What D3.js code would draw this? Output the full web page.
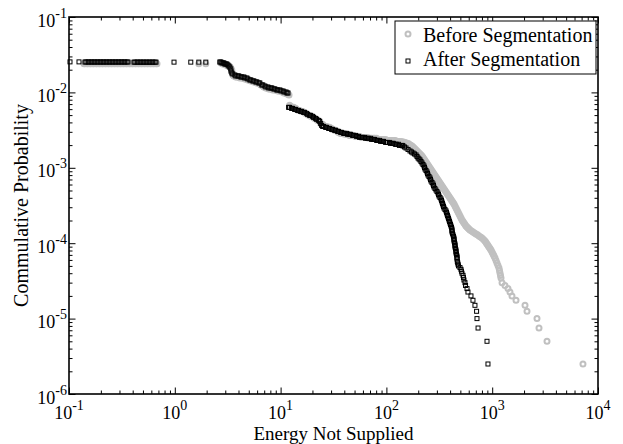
<!DOCTYPE html>
<html>
<head>
<meta charset="utf-8">
<script src="https://cdn.jsdelivr.net/npm/d3@7"></script>
<style>
  body { margin: 0; background: #fff; }
</style>
</head>
<body>
<div id="wrapper"></div>
<script>
// Values: [energy, probability]
const beforeSeg = [
  // plateau
  [0.1386,0.024],[0.1416,0.024],[0.1479,0.024],[0.1512,0.024],[0.1579,0.024],[0.1614,0.024],[0.1686,0.024],
  [0.1723,0.024],[0.1800,0.024],[0.1839,0.024],[0.1921,0.024],[0.1964,0.024],[0.2051,0.024],[0.2096,0.024],
  [0.2190,0.024],[0.2238,0.024],[0.2337,0.024],[0.2389,0.024],[0.2495,0.024],[0.2550,0.024],[0.2663,0.024],
  [0.2722,0.024],[0.2843,0.024],[0.2906,0.024],[0.3035,0.024],[0.3102,0.024],[0.3240,0.024],[0.3311,0.024],
  [0.3458,0.024],[0.3534,0.024],[0.3692,0.024],[0.3773,0.024],[0.3941,0.024],[0.4027,0.024],[0.4206,0.024],
  [0.4299,0.024],[0.4490,0.024],[0.4589,0.024],[0.4793,0.024],[0.4899,0.024],[0.5117,0.024],[0.5229,0.024],
  [0.5462,0.024],[0.5582,0.024],[0.5830,0.024],[0.5958,0.024],[0.6223,0.024],[0.6360,0.024],[0.6643,0.024],
  [0.6789,0.024],[1.686,0.024],[1.964,0.024],
  // 3 .. 12
  [2.722,0.02456],[2.782,0.02456],[2.843,0.02382],[2.906,0.02382],[2.970,0.02382],[3.035,0.02311],[3.102,0.02311],
  [3.170,0.02241],[3.240,0.02241],[3.311,0.02174],[3.384,0.02109],[3.458,0.01984],[3.458,0.01866],[3.534,0.01703],
  [3.612,0.01652],[3.773,0.01602],[3.856,0.01602],[4.027,0.01602],[4.116,0.01554],[4.299,0.01554],[4.394,0.01554],
  [4.589,0.01507],[4.690,0.01507],[4.899,0.01462],[5.006,0.01462],[5.229,0.01418],[5.344,0.01418],[5.582,0.01375],
  [5.705,0.01375],[5.958,0.01334],[6.089,0.01334],[6.360,0.01294],[6.500,0.01255],[6.789,0.01217],[6.938,0.01181],
  [7.247,0.01145],[7.406,0.01145],[7.735,0.01111],[7.905,0.01111],[8.257,0.01111],[8.438,0.01077],[8.813,0.01077],
  [9.007,0.01077],[9.408,0.01045],[9.615,0.01045],[10.09,0.01045],[10.31,0.01013],[10.77,0.00982],[11.01,0.00982],
  [11.49,0.00952],[11.75,0.00952],[12.01,0.00924],
  // 12 .. 140
  [12.16,0.00673],[12.43,0.00652],[12.98,0.00633],[13.27,0.00633],[13.86,0.00614],[14.16,0.00595],[14.79,0.00577],
  [15.12,0.00577],[15.79,0.00560],[16.14,0.00560],[16.86,0.00543],[17.23,0.00527],[18.00,0.00511],[18.39,0.00496],
  [19.21,0.00481],[19.64,0.00481],[20.51,0.00466],[20.96,0.00452],[21.90,0.00439],[22.38,0.00425],[23.37,0.00413],
  [23.89,0.00388],[24.95,0.00377],[25.50,0.00365],[26.63,0.00354],[27.22,0.00354],[28.43,0.00344],[29.06,0.00344],
  [30.35,0.00333],[31.02,0.00323],[32.40,0.00314],[33.11,0.00314],[34.58,0.00304],[35.34,0.00295],[36.92,0.00286],
  [37.73,0.00286],[39.41,0.00286],[40.27,0.00278],[42.06,0.00278],[42.99,0.00278],[44.90,0.00269],[45.89,0.00269],
  [47.93,0.00269],[48.99,0.00269],[51.17,0.00261],[52.29,0.00261],[54.62,0.00261],[55.82,0.00261],[58.30,0.00253],
  [59.58,0.00253],[62.23,0.00253],[63.60,0.00253],[66.43,0.00253],[67.89,0.00246],[70.91,0.00246],[72.47,0.00246],
  [75.69,0.00246],[77.35,0.00246],[80.79,0.00246],[82.57,0.00238],[86.24,0.00238],[88.13,0.00238],[92.05,0.00238],
  [94.08,0.00238],[98.26,0.00238],[102.2,0.00231],[106.7,0.00231],[109.1,0.00231],[113.9,0.00231],[116.4,0.00231],
  [121.6,0.00231],[124.3,0.00224],[129.8,0.00224],[132.7,0.00224],[138.6,0.00224],[141.6,0.00217],
  // bend and fall
  [145.1,2.20e-3],[149.9,2.167e-3],[154.9,2.135e-3],[160.1,2.102e-3],[163.5,2.070e-3],[167.2,2.008e-3],
  [170.8,1.978e-3],[174.6,1.948e-3],[178.4,1.889e-3],[182.4,1.832e-3],[186.4,1.776e-3],[190.5,1.722e-3],
  [194.7,1.672e-3],[199.0,1.622e-3],[203.3,1.573e-3],[207.8,1.526e-3],[212.3,1.480e-3],[217.0,1.436e-3],
  [221.8,1.372e-3],[226.7,1.310e-3],[231.7,1.252e-3],[236.8,1.196e-3],[242.0,1.143e-3],[247.3,1.092e-3],
  [252.7,1.043e-3],[258.3,9.94e-4],[264.0,9.49e-4],[269.8,9.07e-4],[275.7,8.66e-4],[281.8,8.27e-4],
  [288.0,7.90e-4],[294.3,7.55e-4],[300.8,7.21e-4],[307.4,6.89e-4],[314.2,6.58e-4],[321.1,6.29e-4],
  [328.1,6.01e-4],[335.4,5.74e-4],[342.7,5.48e-4],[350.3,5.23e-4],[358.0,5.00e-4],[365.8,4.77e-4],
  [373.9,4.56e-4],[382.1,4.36e-4],[390.6,4.16e-4],[399.2,3.98e-4],[407.9,3.80e-4],[416.9,3.63e-4],
  [426.1,3.47e-4],[435.5,3.31e-4],[445.1,3.12e-4],[454.9,2.93e-4],[465.0,2.76e-4],[475.2,2.59e-4],
  [485.6,2.44e-4],[496.3,2.29e-4],[507.2,2.16e-4],[518.4,2.03e-4],[529.7,1.94e-4],[541.4,1.85e-4],
  [553.3,1.77e-4],[565.4,1.69e-4],[577.8,1.64e-4],[590.5,1.59e-4],[603.5,1.54e-4],[616.8,1.50e-4],
  [637.3,1.45e-4],[658.3,1.41e-4],[680.2,1.37e-4],[702.8,1.32e-4],[726.2,1.29e-4],[750.3,1.25e-4],
  [775.2,1.21e-4],[801.0,1.17e-4],[827.7,1.12e-4],[855.1,1.07e-4],[874.0,1.02e-4],[893.2,9.76e-5],
  [912.8,9.32e-5],[932.8,8.90e-5],[953.3,8.50e-5],[974.3,8.13e-5],[995.7,7.64e-5],[1018,7.19e-5],
  [1040,6.76e-5],[1063,6.36e-5],[1086,5.89e-5],[1110,5.46e-5],[1134,5.06e-5],[1159,4.69e-5],
  [1172,4.35e-5],[1185,4.03e-5],[1198,3.73e-5],[1211,3.46e-5],
  // sparse tail
  [1239,3.0e-5],[1321,2.75e-5],[1409,2.5e-5],[1472,2.25e-5],[1538,2.0e-5],[1679,1.75e-5],[2042,1.5e-5],
  [2133,1.25e-5],[2651,1.0e-5],[2769,7.5e-6],[3296,5.0e-6],[7210,2.5e-6]
];

const afterSeg = [
  // plateau
  [0.1022,0.0254],[0.1243,0.0254],
  [0.1416,0.0253],[0.1448,0.0253],[0.1512,0.0253],[0.1545,0.0253],[0.1614,0.0253],[0.1650,0.0253],[0.1723,0.0253],
  [0.1761,0.0253],[0.1839,0.0253],[0.1880,0.0253],[0.1964,0.0253],[0.2007,0.0253],[0.2096,0.0253],[0.2142,0.0253],
  [0.2238,0.0253],[0.2287,0.0253],[0.2389,0.0253],[0.2441,0.0253],[0.2550,0.0253],[0.2606,0.0253],[0.2722,0.0253],
  [0.2782,0.0253],[0.2906,0.0253],[0.2970,0.0253],[0.3102,0.0253],[0.3170,0.0253],[0.3311,0.0253],[0.3384,0.0253],
  [0.3534,0.0253],[0.3612,0.0253],
  [0.4116,0.0252],[0.4206,0.0252],[0.4394,0.0252],[0.4490,0.0252],[0.4690,0.0252],[0.4793,0.0252],[0.5006,0.0252],
  [0.5117,0.0252],[0.5344,0.0252],[0.5462,0.0252],[0.5705,0.0252],[0.5830,0.0252],[0.6089,0.0252],[0.6223,0.0252],
  [0.6500,0.0252],[0.6643,0.0252],[0.983,0.0252],[1.416,0.0252],[1.686,0.0252],[1.964,0.0252],
  // 3 .. 12
  [2.663,0.0253],[2.722,0.0253],[2.782,0.0246],[2.843,0.0246],[2.906,0.0246],[2.970,0.0238],[3.035,0.0238],
  [3.102,0.0238],[3.170,0.0231],[3.240,0.0224],[3.311,0.0217],[3.384,0.0205],[3.40,0.0192],
  [3.458,0.0181],[3.534,0.01756],[3.692,0.01703],[3.773,0.01652],[3.941,0.01652],[4.027,0.01652],[4.206,0.01602],
  [4.299,0.01602],[4.490,0.01602],[4.589,0.01554],[4.793,0.01554],[4.899,0.01507],[5.117,0.01462],[5.229,0.01462],
  [5.462,0.01418],[5.582,0.01418],[5.830,0.01375],[5.958,0.01375],[6.223,0.01334],[6.360,0.01334],[6.643,0.01255],
  [6.789,0.01255],[7.091,0.01217],[7.247,0.01181],[7.569,0.01181],[7.735,0.01145],[8.079,0.01145],[8.257,0.01145],
  [8.624,0.01111],[8.813,0.01111],[9.205,0.01077],[9.408,0.01077],[9.826,0.01077],[10.09,0.01045],[10.54,0.01045],
  [10.77,0.01013],[11.25,0.01013],[11.5,0.00982],[11.75,0.00982],
  // 12 .. 140
  [11.90,0.00633],[12.16,0.00633],[12.70,0.00614],[12.98,0.00614],[13.56,0.00595],[13.86,0.00595],[14.48,0.00577],
  [14.79,0.00577],[15.45,0.00560],[15.79,0.00560],[16.50,0.00543],[16.86,0.00543],[17.61,0.00527],[18.00,0.00511],
  [18.80,0.00496],[19.21,0.00496],[20.07,0.00481],[20.51,0.00466],[21.42,0.00452],[21.90,0.00439],[22.87,0.00425],
  [23.37,0.00413],[23.89,0.00388],[24.41,0.00365],[24.95,0.00354],[25.50,0.00354],[26.63,0.00344],[27.22,0.00344],
  [28.43,0.00333],[29.06,0.00333],[30.35,0.00323],[31.02,0.00323],[32.40,0.00314],[33.11,0.00314],[34.58,0.00304],
  [35.34,0.00304],[36.92,0.00295],[37.73,0.00295],[39.41,0.00286],[40.27,0.00286],[42.06,0.00286],[42.99,0.00278],
  [44.90,0.00278],[45.89,0.00278],[47.93,0.00269],[48.99,0.00269],[51.17,0.00269],[52.29,0.00261],[54.62,0.00261],
  [55.82,0.00253],[58.30,0.00253],[59.58,0.00253],[62.23,0.00253],[63.60,0.00246],[66.43,0.00246],[67.89,0.00246],
  [70.91,0.00246],[72.47,0.00238],[75.69,0.00238],[77.35,0.00238],[80.79,0.00231],[82.57,0.00231],[86.24,0.00231],
  [88.13,0.00224],[92.05,0.00224],[94.08,0.00224],[98.26,0.00217],[102.2,0.00217],[106.7,0.00217],[109.1,0.00211],
  [113.9,0.00211],[116.4,0.00211],[121.6,0.00205],[124.3,0.00205],[129.8,0.00205],[132.7,0.00198],[138.6,0.00198],
  [141.6,0.00198],
  // bend and fall
  [143.5,1.948e-3],[148.3,1.889e-3],[153.2,1.832e-3],[160.1,1.751e-3],[167.2,1.672e-3],[172.7,1.622e-3],
  [178.4,1.573e-3],[184.3,1.526e-3],[190.5,1.480e-3],[194.7,1.414e-3],[199.0,1.350e-3],[203.3,1.310e-3],
  [207.8,1.270e-3],[212.3,1.213e-3],[217.0,1.159e-3],[221.8,1.107e-3],[226.7,1.058e-3],[229.2,1.010e-3],
  [231.7,9.64e-4],[236.8,9.21e-4],[242.0,8.80e-4],[244.6,8.40e-4],[247.3,8.03e-4],[252.7,7.67e-4],
  [258.3,7.33e-4],[261.1,7.00e-4],[264.0,6.68e-4],[269.8,6.39e-4],[275.7,6.10e-4],[278.7,5.83e-4],
  [281.8,5.57e-4],[288.0,5.32e-4],[294.3,5.08e-4],[300.8,4.85e-4],[307.4,4.63e-4],[310.8,4.43e-4],
  [314.2,4.23e-4],[321.1,4.04e-4],[328.1,3.86e-4],[331.7,3.69e-4],[335.4,3.52e-4],[339.0,3.36e-4],
  [342.7,3.21e-4],[346.5,3.07e-4],[350.3,2.93e-4],[358.0,2.80e-4],[365.8,2.68e-4],[369.9,2.56e-4],
  [373.9,2.44e-4],[378.0,2.33e-4],[382.1,2.23e-4],[386.4,2.13e-4],[390.6,2.03e-4],[394.9,1.94e-4],
  [399.2,1.85e-4],[403.6,1.77e-4],[407.9,1.69e-4],[412.4,1.62e-4],[416.9,1.54e-4],[416.9,1.47e-4],
  [416.9,1.41e-4],[421.5,1.35e-4],[426.1,1.29e-4],[430.8,1.23e-4],[435.5,1.17e-4],[435.5,1.12e-4],
  [435.5,1.07e-4],[440.3,1.02e-4],[445.1,9.76e-5],[445.1,9.32e-5],[445.1,8.90e-5],[450.0,8.50e-5],
  [454.9,8.13e-5],[454.9,7.76e-5],[454.9,7.41e-5],[459.9,7.08e-5],[465.0,6.76e-5],[465.0,6.46e-5],
  [465.0,6.17e-5],
  // sparse tail
  [468,5.75e-5],[472,5.5e-5],[476,5.25e-5],[480,5.0e-5],[496,4.75e-5],[507,4.5e-5],[512,4.25e-5],
  [518,4.0e-5],[530,3.75e-5],[535,3.5e-5],[541,3.25e-5],[553,3.0e-5],[560,2.75e-5],[578,2.5e-5],
  [590,2.25e-5],[630,2.0e-5],[658,1.75e-5],[687,1.5e-5],[712,1.25e-5],[718,1.0e-5],[735,7.5e-6],
  [893,5.0e-6],[912,2.5e-6]
];

const seriesNames = ["Before Segmentation", "After Segmentation"];
const xMajor = [0.1, 1, 10, 100, 1000, 10000];
const xMajorExp = ["-1", "0", "1", "2", "3", "4"];
const yMajor = [1e-6, 1e-5, 1e-4, 1e-3, 1e-2, 1e-1];
const yMajorExp = ["-6", "-5", "-4", "-3", "-2", "-1"];
const xTitle = "Energy Not Supplied";
const yTitle = "Commulative Probability";

function drawChart() {
  const fontFamily = "'Liberation Serif', 'Times New Roman', 'DejaVu Serif', serif";
  const dimensions = {
    width: 623,
    height: 444,
    margin: { top: 17, right: 25, bottom: 50, left: 69 },
  };
  dimensions.boundedWidth = dimensions.width - dimensions.margin.left - dimensions.margin.right;
  dimensions.boundedHeight = dimensions.height - dimensions.margin.top - dimensions.margin.bottom;
  const w = dimensions.boundedWidth, h = dimensions.boundedHeight;

  const wrapper = d3.select("#wrapper").append("svg")
    .attr("width", dimensions.width)
    .attr("height", dimensions.height)
    .attr("font-family", fontFamily)
    .style("display", "block");

  const bounds = wrapper.append("g")
    .attr("transform", `translate(${dimensions.margin.left},${dimensions.margin.top})`);

  const xScale = d3.scaleLog().domain([0.1, 10000]).range([0, w]);
  const yScale = d3.scaleLog().domain([1e-6, 0.1]).range([h, 0]);

  // minor ticks = the 2..9 multiples inside every decade
  const isMinor = d => Math.abs(Math.log10(d) - Math.round(Math.log10(d))) > 1e-6;
  const xMinor = xScale.ticks().filter(isMinor);
  const yMinor = yScale.ticks().filter(isMinor);

  // inward ticks on all four sides
  const tickGroup = (axis, values, size, transform) => {
    const g = bounds.append("g")
      .attr("transform", transform)
      .call(axis.tickValues(values).tickSize(-size).tickFormat(""));
    g.select(".domain").remove();
    g.selectAll("line").attr("stroke", "#000").attr("stroke-width", 1);
  };
  tickGroup(d3.axisBottom(xScale), xMinor, 3.5, `translate(0,${h})`);
  tickGroup(d3.axisBottom(xScale), xMajor, 6.5, `translate(0,${h})`);
  tickGroup(d3.axisTop(xScale), xMinor, 3.5, "translate(0,0)");
  tickGroup(d3.axisTop(xScale), xMajor, 6.5, "translate(0,0)");
  tickGroup(d3.axisLeft(yScale), yMinor, 3.5, "translate(0,0)");
  tickGroup(d3.axisLeft(yScale), yMajor, 6.5, "translate(0,0)");
  tickGroup(d3.axisRight(yScale), yMinor, 3.5, `translate(${w},0)`);
  tickGroup(d3.axisRight(yScale), yMajor, 6.5, `translate(${w},0)`);

  // Before segmentation: grey rings, drawn first so the squares sit on top
  bounds.append("g").selectAll("circle")
    .data(beforeSeg)
    .join("circle")
      .attr("cx", d => xScale(d[0]))
      .attr("cy", d => yScale(d[1]))
      .attr("r", 2.5)
      .attr("fill", "none")
      .attr("stroke", "#c0c0c0")
      .attr("stroke-width", 2);

  // After segmentation: black open squares
  bounds.append("g").selectAll("rect")
    .data(afterSeg)
    .join("rect")
      .attr("x", d => xScale(d[0]) - 2)
      .attr("y", d => yScale(d[1]) - 2)
      .attr("width", 4)
      .attr("height", 4)
      .attr("fill", "none")
      .attr("stroke", "#000")
      .attr("stroke-width", 1);

  // frame
  bounds.append("rect")
    .attr("width", w)
    .attr("height", h)
    .attr("fill", "none")
    .attr("stroke", "#000")
    .attr("stroke-width", 1.6);

  // tick labels: 10 with a raised exponent
  const powerLabel = (sel, exps) => sel.each(function(d, i) {
    const t = d3.select(this);
    t.append("tspan").text("10");
    t.append("tspan").attr("dy", -9).attr("font-size", 14).text(exps[i]);
  });

  bounds.append("g").selectAll("text")
    .data(xMajor)
    .join("text")
      .attr("x", d => xScale(d))
      .attr("y", h + 25)
      .attr("text-anchor", "middle")
      .attr("font-size", 18)
      .call(powerLabel, xMajorExp);

  bounds.append("g").selectAll("text")
    .data(yMajor)
    .join("text")
      .attr("x", -2)
      .attr("y", d => yScale(d) + 9.5)
      .attr("text-anchor", "end")
      .attr("font-size", 18)
      .call(powerLabel, yMajorExp);

  // axis titles
  wrapper.append("text")
    .attr("x", dimensions.margin.left + w / 2)
    .attr("y", 440)
    .attr("text-anchor", "middle")
    .attr("font-size", 19)
    .text(xTitle);

  wrapper.append("text")
    .attr("transform", `translate(28,${dimensions.margin.top + h / 2}) rotate(-90)`)
    .attr("text-anchor", "middle")
    .attr("font-size", 20)
    .text(yTitle);

  // legend
  const legend = wrapper.append("g").attr("transform", "translate(395,21)");
  legend.append("rect")
    .attr("width", 201)
    .attr("height", 53)
    .attr("fill", "#fff")
    .attr("stroke", "#000")
    .attr("stroke-width", 1);
  legend.append("circle")
    .attr("cx", 13).attr("cy", 13).attr("r", 2.5)
    .attr("fill", "none").attr("stroke", "#c0c0c0").attr("stroke-width", 2);
  legend.append("rect")
    .attr("x", 11).attr("y", 38).attr("width", 4).attr("height", 4)
    .attr("fill", "none").attr("stroke", "#000").attr("stroke-width", 1);
  legend.selectAll(".legend-label")
    .data(seriesNames)
    .join("text")
      .attr("class", "legend-label")
      .attr("x", 28)
      .attr("y", (d, i) => 21 + i * 24)
      .attr("font-size", 20)
      .text(d => d);
}
drawChart();
</script>
</body>
</html>
